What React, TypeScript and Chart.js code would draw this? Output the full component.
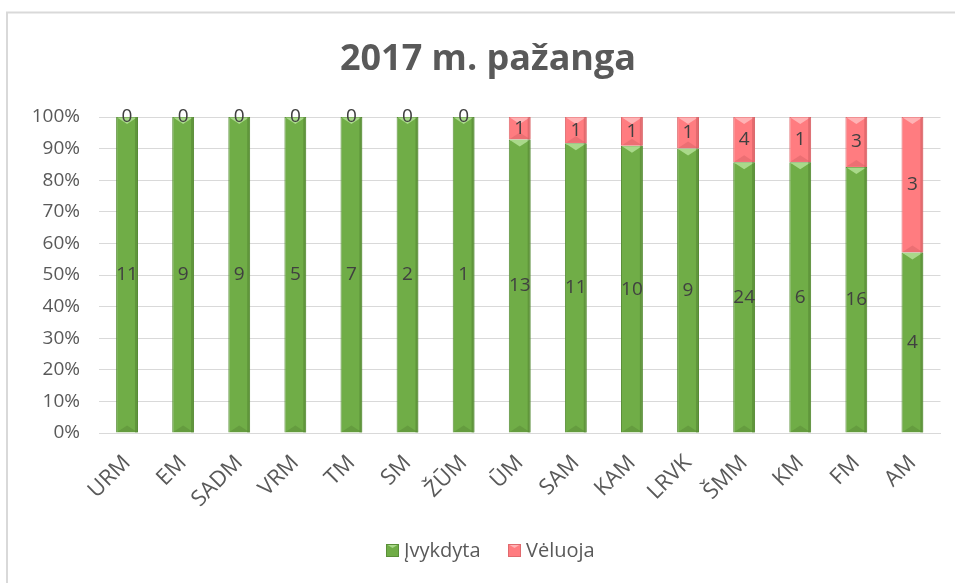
import React, { useEffect, useRef } from "react";
import { Chart, registerables } from "chart.js";

Chart.register(...registerables);

const categories = ["URM", "EM", "SADM", "VRM", "TM", "SM", "ŽŪM", "ŪM", "SAM", "KAM", "LRVK", "ŠMM", "KM", "FM", "AM"];
const done = [11, 9, 9, 5, 7, 2, 1, 13, 11, 10, 9, 24, 6, 16, 4];
const late = [0, 0, 0, 0, 0, 0, 0, 1, 1, 1, 1, 4, 1, 3, 3];
const yTicks = [0, 10, 20, 30, 40, 50, 60, 70, 80, 90, 100];
const title = "2017 m. pažanga";
const seriesNames = ["Įvykdyta", "Vėluoja"];

const FONT = "'Open Sans', sans-serif";
const TEXT = "#595959";
const GREEN = "#70ad47";
const RED = "#ff7c80";

const totals = done.map((d, i) => d + late[i]);
const donePct = done.map((d, i) => (d / totals[i]) * 100);
const latePct = late.map((l, i) => (l / totals[i]) * 100);
const rawValues = [done, late];

const framePlugin = {
  id: "frame",
  beforeDraw(chart: any) {
    const ctx = chart.ctx;
    ctx.save();
    ctx.fillStyle = "#ffffff";
    ctx.fillRect(0, 0, chart.width, chart.height);
    ctx.strokeStyle = "#d9d9d9";
    ctx.lineWidth = 2;
    ctx.beginPath();
    ctx.moveTo(7, chart.height);
    ctx.lineTo(7, 12.5);
    ctx.lineTo(chart.width, 12.5);
    ctx.stroke();
    // title
    ctx.fillStyle = TEXT;
    ctx.font = `bold 36px ${FONT}`;
    ctx.textAlign = "center";
    ctx.textBaseline = "middle";
    ctx.fillText(title, 488, 60);
    // legend
    const items = [
      { x: 386, color: GREEN, border: "#5a8f38", light: "#a9d98a" },
      { x: 508, color: RED, border: "#e06a6e", light: "#ffb3b5" },
    ];
    ctx.font = `20px ${FONT}`;
    ctx.textAlign = "left";
    items.forEach((it, i) => {
      ctx.fillStyle = it.color;
      ctx.fillRect(it.x, 544, 13, 13);
      ctx.fillStyle = it.light;
      ctx.beginPath();
      ctx.moveTo(it.x, 544);
      ctx.lineTo(it.x + 13, 544);
      ctx.lineTo(it.x + 6.5, 548);
      ctx.closePath();
      ctx.fill();
      ctx.strokeStyle = it.border;
      ctx.lineWidth = 1;
      ctx.strokeRect(it.x + 0.5, 544.5, 12, 12);
      ctx.fillStyle = TEXT;
      ctx.fillText(seriesNames[i], it.x + 18, 551);
    });
    ctx.restore();
  },
};

const bevelPlugin = {
  id: "bevel",
  afterDatasetsDraw(chart: any) {
    const ctx = chart.ctx;
    ctx.save();
    chart.data.datasets.forEach((ds: any, di: number) => {
      const meta = chart.getDatasetMeta(di);
      const light = di === 0 ? "#a9d98a" : "#ffb3b5";
      const dark = di === 0 ? "#4f7f30" : "#c9585c";
      meta.data.forEach((bar: any) => {
        const h = Math.abs(bar.base - bar.y);
        if (h < 1) return;
        const left = bar.x - bar.width / 2;
        const right = bar.x + bar.width / 2;
        const top = Math.min(bar.y, bar.base);
        const bottom = Math.max(bar.y, bar.base);
        const t = Math.min(7, h / 2);
        ctx.fillStyle = light;
        ctx.beginPath();
        ctx.moveTo(left + 1, top + 0.5);
        ctx.lineTo(right - 1, top + 0.5);
        ctx.lineTo(bar.x, top + t);
        ctx.closePath();
        ctx.fill();
        ctx.fillStyle = dark;
        ctx.globalAlpha = 0.5;
        ctx.fillRect(right - 3, top, 2.5, bottom - top);
        ctx.globalAlpha = 0.35;
        ctx.beginPath();
        ctx.moveTo(left + 1, bottom - 0.5);
        ctx.lineTo(right - 1, bottom - 0.5);
        ctx.lineTo(bar.x, bottom - t);
        ctx.closePath();
        ctx.fill();
        ctx.globalAlpha = 1;
      });
    });
    ctx.restore();
  },
};

const labelPlugin = {
  id: "segLabels",
  afterDatasetsDraw(chart: any) {
    const ctx = chart.ctx;
    ctx.save();
    ctx.font = `19px ${FONT}`;
    ctx.fillStyle = "#404040";
    ctx.textAlign = "center";
    ctx.textBaseline = "middle";
    chart.data.datasets.forEach((ds: any, di: number) => {
      const meta = chart.getDatasetMeta(di);
      meta.data.forEach((bar: any, i: number) => {
        const cy = (bar.y + bar.base) / 2;
        ctx.fillText(String(rawValues[di][i]), bar.x, cy);
      });
    });
    ctx.restore();
  },
};

export default function App() {
  const ref = useRef<HTMLCanvasElement | null>(null);
  useEffect(() => {
    document.body.style.margin = "0";
    if (!ref.current) return;
    const chart = new Chart(ref.current, {
      type: "bar",
      data: {
        labels: categories,
        datasets: [
          {
            label: seriesNames[0],
            data: donePct,
            backgroundColor: GREEN,
            borderColor: "#5a8f38",
            borderWidth: 1,
            barPercentage: 0.39,
            categoryPercentage: 1,
          },
          {
            label: seriesNames[1],
            data: latePct,
            backgroundColor: RED,
            borderColor: "#e06a6e",
            borderWidth: 1,
            barPercentage: 0.39,
            categoryPercentage: 1,
          },
        ],
      },
      options: {
        animation: false,
        responsive: false,
        maintainAspectRatio: false,
        layout: { padding: { left: 0, right: 14.5, top: 117, bottom: 50 } },
        plugins: {
          title: { display: false },
          legend: { display: false },
          tooltip: { enabled: false },
        },
        scales: {
          x: {
            stacked: true,
            grid: { display: false, drawTicks: false },
            border: { color: "#d9d9d9", width: 1 },
            ticks: {
              color: TEXT,
              font: { family: FONT, size: 22 },
              minRotation: 45,
              maxRotation: 45,
              padding: 17,
            },
            afterFit(scale: any) {
              scale.height = 100;
            },
          },
          y: {
            stacked: true,
            min: 0,
            max: 100,
            afterBuildTicks(scale: any) {
              scale.ticks = yTicks.map((v) => ({ value: v }));
            },
            grid: { color: "#d9d9d9", lineWidth: 1, drawTicks: false },
            border: { display: false },
            ticks: {
              color: TEXT,
              font: { family: FONT, size: 19 },
              padding: 19,
              callback: (v: any) => `${v}%`,
            },
            afterFit(scale: any) {
              scale.width = 99;
            },
          },
        },
      },
      plugins: [framePlugin, bevelPlugin, labelPlugin],
    });
    return () => chart.destroy();
  }, []);
  return (
    <div style={{ width: 955, height: 583 }}>
      <canvas ref={ref} width={955} height={583} style={{ display: "block" }} />
    </div>
  );
}
